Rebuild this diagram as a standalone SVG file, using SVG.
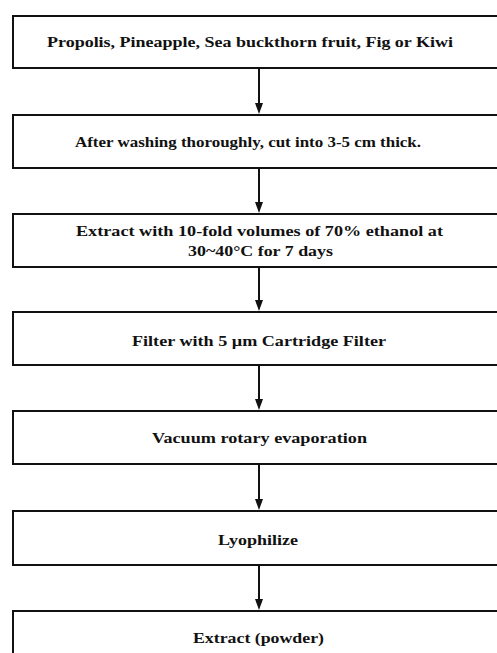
<svg xmlns="http://www.w3.org/2000/svg" width="497" height="653" viewBox="0 0 497 653">
<style>
.box{fill:#fff;stroke:#111;stroke-width:2}
.t{font-family:"Liberation Serif","Times New Roman",serif;font-weight:bold;font-size:15.5px;fill:#111;text-anchor:middle}
.c{stroke:#111;stroke-width:2;fill:none}
.h{fill:#111}
</style>
<rect width="497" height="653" fill="#fff"/>
<g id="connectors">
<line class="c" x1="259" y1="68" x2="259" y2="104"/><polygon class="h" points="255,103 263,103 259,114"/>
<line class="c" x1="259" y1="168" x2="259" y2="203"/><polygon class="h" points="255,202 263,202 259,213"/>
<line class="c" x1="259" y1="267" x2="259" y2="301"/><polygon class="h" points="255,300 263,300 259,311"/>
<line class="c" x1="259" y1="365" x2="259" y2="400"/><polygon class="h" points="255,399 263,399 259,410"/>
<line class="c" x1="259" y1="464" x2="259" y2="500"/><polygon class="h" points="255,499 263,499 259,510"/>
<line class="c" x1="259" y1="565" x2="259" y2="600"/><polygon class="h" points="255,599 263,599 259,610"/>
</g>
<g id="n1"><rect class="box" x="13" y="16" width="500" height="52"/><text class="t" x="250" y="47" textLength="406" lengthAdjust="spacingAndGlyphs">Propolis, Pineapple, Sea buckthorn fruit, Fig or Kiwi</text></g>
<g id="n2"><rect class="box" x="13" y="115" width="500" height="53"/><text class="t" x="248" y="147" textLength="346" lengthAdjust="spacingAndGlyphs">After washing thoroughly, cut into 3-5 cm thick.</text></g>
<g id="n3"><rect class="box" x="13" y="214" width="500" height="53"/><text class="t" x="259.5" y="236" textLength="367" lengthAdjust="spacingAndGlyphs">Extract with 10-fold volumes of 70% ethanol at</text><text class="t" x="260.5" y="256" textLength="145" lengthAdjust="spacingAndGlyphs">30~40°C for 7 days</text></g>
<g id="n4"><rect class="box" x="13" y="312" width="500" height="53"/><text class="t" x="259" y="346" textLength="254" lengthAdjust="spacingAndGlyphs">Filter with 5 µm Cartridge Filter</text></g>
<g id="n5"><rect class="box" x="13" y="411" width="500" height="53"/><text class="t" x="259.5" y="443" textLength="215" lengthAdjust="spacingAndGlyphs">Vacuum rotary evaporation</text></g>
<g id="n6"><rect class="box" x="13" y="511" width="500" height="54"/><text class="t" x="258" y="545" textLength="80" lengthAdjust="spacingAndGlyphs">Lyophilize</text></g>
<g id="n7"><rect class="box" x="13" y="611" width="500" height="60"/><text class="t" x="258.5" y="643" textLength="131" lengthAdjust="spacingAndGlyphs">Extract (powder)</text></g>
</svg>
